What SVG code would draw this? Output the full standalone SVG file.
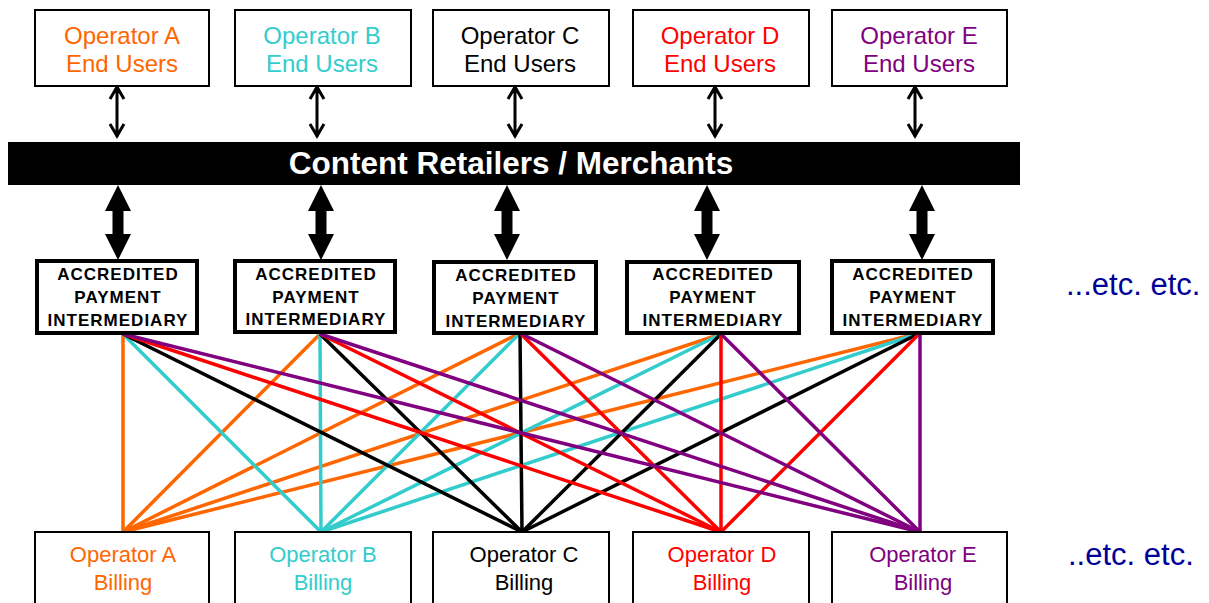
<svg xmlns="http://www.w3.org/2000/svg" width="1209" height="603" viewBox="0 0 1209 603">
<style>
text{font-family:"Liberation Sans",Arial,sans-serif;text-anchor:middle}
.box{fill:#fff;stroke:#000;stroke-width:2}
.ibox{fill:#fff;stroke:#000;stroke-width:4}
.t1{font-size:24px}
.t2{font-size:22px}
.it{font-size:17px;font-weight:bold;letter-spacing:1px}
.etc{font-size:31px;fill:#000099;text-anchor:start}
.thin{stroke:#000;stroke-width:3;fill:none}
.big{fill:#000}
.ln{stroke-width:3.5;fill:none}
.oA{fill:#FF6600}.oB{fill:#33CCCC}.oC{fill:#000}.oD{fill:#FF0000}.oE{fill:#800080}
</style>
<defs>
<path id="sa" d="M0,86 V137 M-7,99 L0,87 L7,99 M-7,124 L0,136 L7,124" class="thin"/>
<polygon id="ba" points="0,185 13,211 5.5,211 5.5,234 13,234 0,260 -13,234 -5.5,234 -5.5,211 -13,211" class="big"/>
</defs>

<g id="connectors">
<use href="#sa" x="117"/><use href="#sa" x="317"/><use href="#sa" x="515"/><use href="#sa" x="715"/><use href="#sa" x="915"/>
<use href="#ba" x="118"/><use href="#ba" x="321"/><use href="#ba" x="507"/><use href="#ba" x="707"/><use href="#ba" x="922"/>
<g class="ln">
<g stroke="#FF6600">
<line x1="123" y1="334" x2="123" y2="532"/>
<line x1="320" y1="334" x2="123" y2="532"/>
<line x1="520" y1="333" x2="123" y2="532"/>
<line x1="721" y1="334" x2="123" y2="532"/>
<line x1="920" y1="333" x2="123" y2="532"/>
</g>
<g stroke="#33CCCC">
<line x1="123" y1="334" x2="321" y2="532"/>
<line x1="320" y1="334" x2="321" y2="532"/>
<line x1="520" y1="333" x2="321" y2="532"/>
<line x1="721" y1="334" x2="321" y2="532"/>
<line x1="920" y1="333" x2="321" y2="532"/>
</g>
<g stroke="#000">
<line x1="123" y1="334" x2="522" y2="532"/>
<line x1="320" y1="334" x2="522" y2="532"/>
<line x1="520" y1="333" x2="522" y2="532"/>
<line x1="721" y1="334" x2="522" y2="532"/>
<line x1="920" y1="333" x2="522" y2="532"/>
</g>
<g stroke="#FF0000">
<line x1="123" y1="334" x2="721" y2="532"/>
<line x1="320" y1="334" x2="721" y2="532"/>
<line x1="520" y1="333" x2="721" y2="532"/>
<line x1="721" y1="334" x2="721" y2="532"/>
<line x1="920" y1="333" x2="721" y2="532"/>
</g>
<g stroke="#800080">
<line x1="123" y1="334" x2="920" y2="532"/>
<line x1="320" y1="334" x2="920" y2="532"/>
<line x1="520" y1="333" x2="920" y2="532"/>
<line x1="721" y1="334" x2="920" y2="532"/>
<line x1="920" y1="333" x2="920" y2="532"/>
</g>
</g>
</g>

<g id="userA"><rect class="box" x="35" y="10" width="174" height="76"/><text class="t1 oA" x="122" y="44">Operator A</text><text class="t1 oA" x="122" y="72">End Users</text></g>
<g id="userB"><rect class="box" x="235" y="10" width="176" height="76"/><text class="t1 oB" x="322" y="44">Operator B</text><text class="t1 oB" x="322" y="72">End Users</text></g>
<g id="userC"><rect class="box" x="433" y="10" width="176" height="76"/><text class="t1 oC" x="520" y="44">Operator C</text><text class="t1 oC" x="520" y="72">End Users</text></g>
<g id="userD"><rect class="box" x="633" y="10" width="176" height="76"/><text class="t1 oD" x="720" y="44">Operator D</text><text class="t1 oD" x="720" y="72">End Users</text></g>
<g id="userE"><rect class="box" x="832" y="10" width="175" height="76"/><text class="t1 oE" x="919" y="44">Operator E</text><text class="t1 oE" x="919" y="72">End Users</text></g>

<g id="retailers"><rect x="8" y="142" width="1012" height="43" fill="#000"/><text x="511" y="174" fill="#fff" font-size="31.5" font-weight="bold">Content Retailers / Merchants</text></g>

<g id="apiA"><rect class="ibox" x="37" y="261" width="160" height="72"/><text class="it" x="118" y="280">ACCREDITED</text><text class="it" x="118" y="303">PAYMENT</text><text class="it" x="118" y="326">INTERMEDIARY</text></g>
<g id="apiB"><rect class="ibox" x="235" y="261" width="160" height="71"/><text class="it" x="316" y="280">ACCREDITED</text><text class="it" x="316" y="303">PAYMENT</text><text class="it" x="316" y="325">INTERMEDIARY</text></g>
<g id="apiC"><rect class="ibox" x="434" y="262" width="162" height="71"/><text class="it" x="516" y="281">ACCREDITED</text><text class="it" x="516" y="304">PAYMENT</text><text class="it" x="516" y="327">INTERMEDIARY</text></g>
<g id="apiD"><rect class="ibox" x="627" y="262" width="172" height="71"/><text class="it" x="713" y="280">ACCREDITED</text><text class="it" x="713" y="303">PAYMENT</text><text class="it" x="713" y="326">INTERMEDIARY</text></g>
<g id="apiE"><rect class="ibox" x="832" y="261" width="161" height="72"/><text class="it" x="913" y="280">ACCREDITED</text><text class="it" x="913" y="303">PAYMENT</text><text class="it" x="913" y="326">INTERMEDIARY</text></g>

<g id="billA"><rect class="box" x="35" y="532" width="174" height="80"/><text class="t2 oA" x="123" y="562">Operator A</text><text class="t2 oA" x="123" y="590">Billing</text></g>
<g id="billB"><rect class="box" x="235" y="532" width="176" height="80"/><text class="t2 oB" x="323" y="562">Operator B</text><text class="t2 oB" x="323" y="590">Billing</text></g>
<g id="billC"><rect class="box" x="433" y="532" width="176" height="80"/><text class="t2 oC" x="524" y="562">Operator C</text><text class="t2 oC" x="524" y="590">Billing</text></g>
<g id="billD"><rect class="box" x="633" y="532" width="176" height="80"/><text class="t2 oD" x="722" y="562">Operator D</text><text class="t2 oD" x="722" y="590">Billing</text></g>
<g id="billE"><rect class="box" x="832" y="532" width="175" height="80"/><text class="t2 oE" x="923" y="562">Operator E</text><text class="t2 oE" x="923" y="590">Billing</text></g>

<text class="etc" x="1066" y="295">...etc. etc.</text>
<text class="etc" x="1068" y="565">..etc. etc.</text>
</svg>
